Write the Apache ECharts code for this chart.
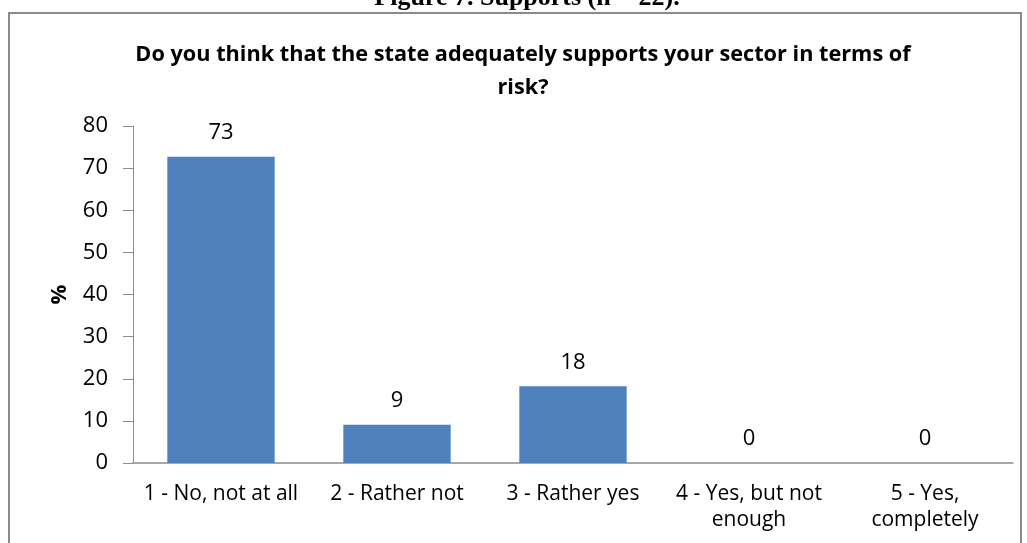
<!DOCTYPE html>
<html>
<head>
<meta charset="utf-8">
<script src="https://cdn.jsdelivr.net/npm/echarts@6/dist/echarts.min.js"></script>
<style>
html,body{margin:0;padding:0;background:#fff;}
#chart{width:1027px;height:543px;}
</style>
</head>
<body>
<div id="chart"></div>
<script>
const categories = ['1 - No, not at all', '2 - Rather not', '3 - Rather yes', '4 - Yes, but not\nenough', '5 - Yes,\ncompletely'];
const values = [72.7, 9.1, 18.2, 0, 0];
const yTicks = [0, 10, 20, 30, 40, 50, 60, 70, 80];
const caption = 'Figure 7. Supports (n = 22).';
const titleText = 'Do you think that the state adequately supports your sector in terms of\nrisk?';
const yName = '%';

const FONT = '"Open Sans", "Noto Sans", sans-serif';
const chart = echarts.init(document.getElementById('chart'), null, {renderer: 'canvas'});
chart.setOption({
  animation: false,
  backgroundColor: '#fff',
  graphic: [
    {type: 'rect', shape: {x: 9, y: 13, width: 1012, height: 560}, style: {fill: 'none', stroke: '#8a8a8a', lineWidth: 2}, z: -1},
    {type: 'text', x: 527, y: -15, style: {text: caption, align: 'center', font: 'bold 26px "Liberation Serif", serif', fill: '#000'}}
  ],
  title: {
    text: titleText,
    left: 518, textAlign: 'center', top: 33,
    textStyle: {fontFamily: FONT, fontWeight: 'bold', fontSize: 21.7, color: '#000', lineHeight: 33}
  },
  grid: {left: 133, right: 14, top: 126, bottom: 80, containLabel: false},
  xAxis: {
    type: 'category', data: categories,
    axisLine: {lineStyle: {color: '#8c8c8c', width: 1.5}},
    axisTick: {show: false},
    axisLabel: {fontFamily: FONT, fontSize: 21, color: '#000', margin: 18, lineHeight: 26, interval: 0}
  },
  yAxis: {
    type: 'value', min: yTicks[0], max: yTicks[yTicks.length - 1], interval: 10,
    name: yName, nameLocation: 'middle', nameGap: 62, nameRotate: 90,
    nameTextStyle: {fontFamily: FONT, fontWeight: 'bold', fontSize: 22, color: '#000'},
    axisLine: {show: true, lineStyle: {color: '#8c8c8c', width: 1}},
    axisTick: {show: true, length: 10, lineStyle: {color: '#8c8c8c'}},
    splitLine: {show: false},
    axisLabel: {fontFamily: FONT, fontSize: 22, color: '#000', margin: 25}
  },
  series: [{
    type: 'bar', data: values, barCategoryGap: '39%',
    itemStyle: {color: '#4f81bd'},
    label: {show: true, position: 'top', distance: 13, fontFamily: FONT, fontSize: 22, color: '#000',
      formatter: p => Math.round(p.value)}
  }]
});
</script>
</body>
</html>
